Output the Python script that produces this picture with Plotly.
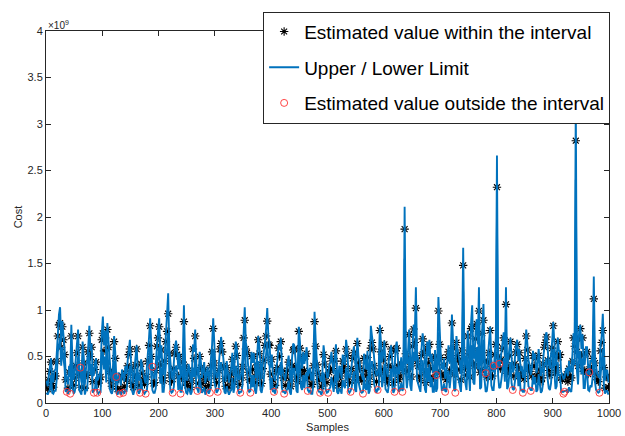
import plotly.graph_objects as go

# sample index of each point (every 2nd sample)
samples = list(range(1, 1000, 2))

# values in units of 1e9
upper = [
    .24,.18,.30,.41,.48,.26,.22,.35,.36,.52,.80,.95,1.03,.66,.88,.74,.58,.31,.27,.20,
    .40,.28,.84,.45,.25,.33,.46,.61,.79,.38,.33,.22,.66,.50,.20,.37,.44,.60,.83,.56,
    .64,.29,.30,.43,.48,.24,.26,.31,.35,.74,.93,.62,.78,.49,.86,.67,.42,.30,.23,.40,
    .72,.55,.25,.19,.33,.27,.19,.36,.29,.23,.40,.31,.45,.58,.68,.44,.27,.21,.36,.48,
    .62,.34,.24,.28,.47,.39,.31,.25,.21,.35,.52,.70,.91,.57,.34,.26,.28,.42,.66,.77,
    .91,.48,.62,.33,.30,.52,.72,.86,1.18,.60,.38,.29,.25,.44,.60,.67,.56,.36,.54,.27,
    .33,.50,1.05,.46,.29,.24,.42,.37,.22,.30,.63,.55,.79,.41,.35,.26,.55,.45,.27,.34,
    .44,.21,.31,.39,.24,.29,.48,.62,.91,.50,.36,.27,.28,.42,.63,.71,.60,.47,.33,.23,
    .45,.35,.22,.30,.38,.54,.29,.44,.66,.58,.40,.25,.26,.33,.47,.76,1.03,.65,.58,.40,
    .31,.28,.55,.43,.54,.36,.27,.48,.72,.60,.36,.26,.45,.53,.66,.80,1.02,.70,.66,.38,
    .52,.31,.28,.24,.38,.45,.63,.57,.70,.41,.33,.27,.24,.35,.42,.51,.30,.22,.48,.64,
    .62,.46,.35,.29,.82,.66,.44,.37,.55,.42,.54,.60,.29,.33,.38,.25,.25,.47,.98,.68,
    .46,.39,.31,.26,.23,.34,.62,.49,.36,.28,.27,.40,.44,.55,.42,.31,.50,.63,.33,.24,
    .40,.36,.26,.52,.47,.41,.68,.58,.35,.27,.29,.44,.53,.61,.38,.30,.70,.50,.45,.33,
    .30,.25,.53,.42,.36,.56,.25,.35,.83,.72,.63,.47,.40,.29,.32,.38,.84,.62,.44,.53,
    .67,.40,.33,.28,.48,.57,.62,.45,.28,.34,.60,.66,.45,.31,.36,.49,.31,.42,2.11,.60,
    .42,.55,.79,.46,.35,.68,.84,.72,1.245,.52,.48,.36,.30,.58,.75,.62,.40,.27,.66,.50,
    .68,.44,.53,.33,.33,.57,.29,.41,1.14,.70,.54,.38,.36,.48,.26,.31,.54,.62,.42,.55,
    .95,.66,.38,.29,.72,.58,.52,.43,.31,.64,1.67,.55,.46,.37,.78,.60,.35,.86,1.05,.49,
    .48,.76,.90,.63,1.245,.40,.44,.82,1.065,.52,.28,.35,.52,.61,.82,.46,.36,.33,.60,.70,
    2.66,.57,.38,.44,.55,.66,.76,.50,1.245,.39,.45,.58,.70,.48,.33,.36,.50,.62,.68,.45,
    .58,.34,.40,.27,.32,.55,.79,.64,.46,.41,.30,.36,.56,.47,.53,.32,.38,.58,.44,.29,
    .34,.49,.64,.72,.76,.53,.42,.37,.50,.66,.87,.60,.40,.45,.70,.56,.56,.33,.31,.26,
    .27,.34,.38,.29,.45,.35,.33,.52,.75,.68,3.25,.62,.48,.77,.84,.58,.74,.41,.42,.60,
    .60,.38,.30,.46,.44,.55,1.36,.50,.38,.31,.29,.27,.62,.72,.96,.45,.24,.35,.35,.22,
]

estimate = [
    .20,.15,.25,.34,.44,.21,.17,.29,.29,.45,.72,.84,.86,.60,.82,.68,.52,.25,.12,.16,
    .33,.10,.72,.38,.19,.27,.40,.54,.72,.31,.38,.17,.60,.43,.16,.30,.30,.55,.75,.50,
    .60,.23,.11,.36,.44,.11,.21,.25,.28,.68,.75,.56,.70,.42,.79,.60,.34,.24,.18,.33,
    .66,.48,.28,.15,.26,.10,.15,.29,.11,.18,.32,.25,.40,.52,.58,.37,.21,.17,.30,.41,
    .58,.27,.19,.11,.42,.32,.25,.20,.10,.28,.45,.62,.83,.50,.39,.21,.22,.35,.61,.70,
    .82,.41,.57,.27,.24,.45,.66,.77,.96,.53,.30,.23,.11,.37,.54,.60,.52,.29,.50,.10,
    .27,.44,.875,.39,.23,.19,.35,.30,.17,.24,.58,.48,.72,.34,.13,.21,.50,.38,.21,.28,
    .36,.17,.25,.32,.19,.11,.40,.55,.80,.43,.29,.22,.12,.35,.58,.64,.55,.40,.26,.18,
    .38,.28,.17,.24,.31,.47,.23,.37,.61,.51,.33,.20,.11,.27,.39,.70,.89,.58,.54,.33,
    .25,.11,.50,.36,.50,.29,.22,.41,.68,.53,.29,.21,.37,.46,.62,.72,.88,.63,.62,.31,
    .47,.25,.12,.19,.34,.38,.59,.50,.66,.34,.27,.10,.19,.28,.35,.44,.24,.18,.40,.57,
    .58,.39,.28,.23,.77,.59,.36,.30,.50,.35,.50,.53,.13,.27,.31,.20,.20,.40,.875,.61,
    .41,.32,.25,.11,.18,.28,.52,.42,.29,.22,.11,.33,.36,.48,.37,.25,.45,.56,.27,.19,
    .32,.29,.21,.45,.39,.34,.58,.51,.28,.22,.12,.37,.48,.54,.31,.24,.64,.43,.37,.27,
    .24,.10,.48,.35,.29,.49,.20,.28,.59,.65,.58,.40,.33,.23,.14,.31,.78,.55,.36,.46,
    .63,.33,.27,.22,.40,.50,.58,.38,.22,.12,.56,.59,.40,.25,.29,.42,.12,.35,1.87,.53,
    .34,.48,.735,.39,.28,.61,.795,.65,1.02,.45,.40,.29,.24,.51,.69,.55,.33,.22,.59,.43,
    .63,.37,.48,.27,.27,.50,.30,.34,.99,.63,.49,.31,.29,.41,.12,.25,.49,.55,.35,.48,
    .86,.59,.31,.11,.65,.51,.45,.36,.25,.57,1.48,.48,.38,.30,.72,.53,.28,.80,.82,.42,
    .40,.69,.85,.56,.99,.33,.36,.75,.89,.45,.32,.28,.44,.54,.78,.39,.29,.40,.52,.63,
    2.32,.50,.42,.37,.47,.59,.70,.43,1.06,.32,.37,.51,.66,.41,.14,.29,.42,.55,.63,.38,
    .54,.28,.33,.11,.26,.48,.72,.57,.38,.34,.13,.29,.51,.40,.48,.26,.31,.51,.36,.23,
    .27,.42,.60,.65,.71,.46,.35,.30,.42,.59,.83,.53,.33,.38,.66,.49,.52,.27,.25,.10,
    .12,.28,.31,.23,.37,.29,.27,.45,.70,.61,2.82,.55,.40,.70,.80,.51,.70,.34,.35,.53,
    .55,.31,.33,.39,.36,.48,1.12,.43,.31,.25,.23,.11,.56,.65,.78,.38,.16,.28,.28,.17,
]

lower = [
    .11,.09,.12,.14,.30,.11,.10,.13,.13,.25,.55,.65,.70,.40,.60,.48,.38,.12,.14,.10,
    .15,.12,.52,.18,.10,.12,.20,.35,.50,.14,.12,.09,.40,.22,.09,.14,.14,.34,.55,.30,
    .42,.11,.13,.16,.28,.12,.10,.12,.12,.46,.55,.36,.50,.22,.58,.40,.16,.12,.10,.15,
    .45,.27,.11,.09,.12,.12,.09,.13,.12,.10,.15,.12,.25,.32,.40,.17,.11,.09,.13,.21,
    .38,.13,.10,.13,.26,.15,.12,.10,.12,.13,.24,.42,.60,.30,.14,.11,.11,.16,.42,.50,
    .60,.21,.38,.12,.12,.25,.45,.57,.75,.33,.14,.11,.12,.17,.35,.40,.33,.14,.30,.12,
    .12,.24,.68,.19,.11,.10,.16,.14,.09,.12,.38,.28,.50,.16,.15,.11,.30,.18,.11,.13,
    .17,.09,.12,.15,.10,.13,.20,.35,.58,.23,.14,.11,.13,.16,.38,.44,.35,.20,.12,.10,
    .18,.13,.09,.12,.14,.27,.11,.17,.40,.31,.15,.10,.12,.12,.19,.48,.68,.38,.34,.15,
    .12,.13,.30,.17,.30,.14,.10,.21,.45,.33,.14,.11,.17,.26,.40,.52,.66,.43,.40,.14,
    .27,.12,.13,.10,.18,.18,.38,.30,.44,.16,.12,.12,.10,.13,.16,.24,.12,.09,.20,.37,
    .37,.19,.13,.11,.55,.39,.17,.14,.30,.16,.30,.33,.14,.12,.14,.10,.10,.20,.65,.41,
    .22,.15,.12,.12,.09,.13,.33,.22,.14,.11,.12,.15,.17,.28,.20,.12,.26,.36,.12,.10,
    .15,.14,.10,.25,.19,.16,.38,.31,.13,.11,.13,.17,.28,.34,.14,.12,.42,.23,.17,.12,
    .11,.12,.28,.16,.14,.29,.10,.13,.40,.45,.37,.20,.15,.11,.15,.14,.55,.35,.17,.26,
    .42,.15,.12,.11,.20,.30,.37,.18,.11,.14,.35,.39,.22,.12,.14,.22,.13,.16,1.55,.33,
    .16,.28,.50,.19,.13,.41,.55,.45,.80,.25,.20,.14,.12,.31,.46,.35,.15,.11,.38,.23,
    .42,.17,.28,.12,.12,.30,.12,.16,.76,.43,.29,.14,.14,.21,.13,.12,.29,.35,.16,.28,
    .62,.39,.14,.13,.44,.31,.24,.17,.12,.37,1.20,.28,.18,.14,.50,.33,.13,.58,.62,.22,
    .20,.49,.60,.36,.76,.15,.17,.55,.68,.25,.12,.13,.22,.34,.55,.19,.14,.14,.30,.43,
    1.95,.30,.16,.17,.26,.39,.48,.23,.82,.15,.18,.31,.44,.21,.15,.14,.22,.35,.42,.18,
    .33,.13,.15,.12,.12,.28,.50,.37,.18,.16,.14,.14,.30,.20,.28,.12,.14,.31,.17,.11,
    .13,.22,.39,.45,.48,.26,.16,.14,.21,.39,.58,.33,.15,.18,.44,.29,.31,.12,.12,.12,
    .13,.13,.14,.11,.17,.13,.12,.25,.47,.41,2.40,.35,.20,.50,.56,.31,.48,.16,.16,.33,
    .34,.14,.13,.19,.17,.28,.88,.23,.14,.12,.11,.12,.35,.45,.58,.18,.10,.13,.13,.09,
]

x_ticks = list(range(0, 1001, 100))
y_ticks = [0, 0.5, 1, 1.5, 2, 2.5, 3, 3.5, 4]
y_tick_text = ["0", "0.5", "1", "1.5", "2", "2.5", "3", "3.5", "4"]

in_x, in_y, out_x, out_y = [], [], [], []
for s, e, lo, up in zip(samples, estimate, lower, upper):
    if lo <= e <= up:
        in_x.append(s); in_y.append(e)
    else:
        out_x.append(s); out_y.append(e)

BLUE = "#0072BD"
AX = "#262626"
FONT = "Liberation Sans, Arial, Helvetica, sans-serif"

fig = go.Figure()
fig.add_trace(go.Scatter(
    x=in_x, y=in_y, mode="markers", name="Estimated value within the interval",
    legendgroup="a",
    marker=dict(symbol="asterisk-open", size=7, color="black",
                line=dict(color="black", width=1.1)),
))
fig.add_trace(go.Scatter(
    x=samples, y=upper, mode="lines", name="Upper / Lower Limit",
    legendgroup="b", line=dict(color=BLUE, width=1.9),
))
fig.add_trace(go.Scatter(
    x=samples, y=lower, mode="lines", name="Upper / Lower Limit",
    legendgroup="b", showlegend=False, line=dict(color=BLUE, width=1.9),
))
fig.add_trace(go.Scatter(
    x=out_x, y=out_y, mode="markers", name="Estimated value outside the interval",
    legendgroup="c",
    marker=dict(symbol="circle-open", size=7, color="#FF3030",
                line=dict(color="#FF3030", width=0.9)),
))

axis_common = dict(
    showline=True, linecolor=AX, linewidth=1, mirror="ticks",
    ticks="inside", ticklen=5, tickcolor=AX, tickwidth=1,
    showgrid=False, zeroline=False, automargin=False,
    tickfont=dict(family=FONT, size=11, color=AX),
)

fig.update_layout(
    width=625, height=436,
    margin=dict(l=46, r=16, t=24, b=33),
    paper_bgcolor="white", plot_bgcolor="white",
    font=dict(family=FONT, color=AX),
    xaxis=dict(range=[0, 1000], tickvals=x_ticks,
               title=dict(text="Samples", font=dict(family=FONT, size=11, color=AX), standoff=5),
               **axis_common),
    yaxis=dict(range=[0, 4], tickvals=y_ticks, ticktext=y_tick_text,
               title=dict(text="Cost", font=dict(family=FONT, size=11, color=AX), standoff=2),
               **axis_common),
    legend=dict(
        x=1.002, xanchor="right", y=1.052, yanchor="top",
        bgcolor="white", bordercolor="#262626", borderwidth=1,
        font=dict(family=FONT, size=19, color="black"),
        traceorder="grouped", tracegroupgap=8, itemwidth=30,
    ),
    showlegend=True,
    annotations=[dict(
        xref="paper", yref="paper", x=0, y=1, xanchor="left", yanchor="bottom",
        text="×10<sup>9</sup>", showarrow=False, yshift=-2,
        font=dict(family=FONT, size=10, color=AX),
    )],
)

fig.write_html("out.html")
